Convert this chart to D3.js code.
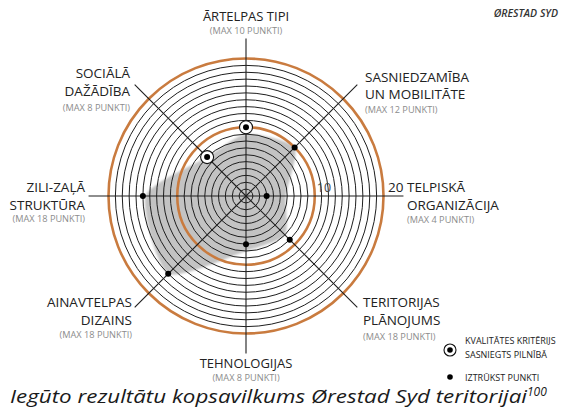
<!DOCTYPE html>
<html>
<head>
<meta charset="utf-8">
<script src="https://cdn.jsdelivr.net/npm/d3@7"></script>
<style>
  body { margin: 0; background: #fff; }
  svg { display: block; font-family: "Open Sans", sans-serif; }
</style>
</head>
<body>
<div id="chart"></div>
<script>
// criteria, clockwise from the top
const criteria = [
  ["ĀRTELPAS TIPI"],
  ["SASNIEDZAMĪBA", "UN MOBILITĀTE"],
  ["TELPISKĀ", "ORGANIZĀCIJA"],
  ["TERITORIJAS", "PLĀNOJUMS"],
  ["TEHNOLOGIJAS"],
  ["AINAVTELPAS", "DIZAINS"],
  ["ZILI-ZAĻĀ", "STRUKTŪRA"],
  ["SOCIĀLĀ", "DAŽĀDĪBA"]
];
const maxPoints = [10, 12, 4, 18, 8, 18, 18, 8];
const scores = [10, 10, 3, 9, 7, 16, 15, 8];
const fullyMet = [true, false, false, false, false, false, false, true];
// extent of the grey area along each axis
const shaded = [9, 10, 5.8, 8, 8, 16, 14.6, 8];
const ringValues = d3.range(1, 21);
const tickLabels = [10, 20];

const width = 563, height = 411;
const cx = 246, cy = 196;

const svg = d3.select("#chart").append("svg")
  .attr("width", width)
  .attr("height", height);

const r = d3.scaleLinear().domain([0, 20]).range([0, 137.5]);
const angle = d3.scaleLinear().domain([0, criteria.length]).range([0, 2 * Math.PI]);
const px = (i, v) => r(v) * Math.sin(angle(i));
const py = (i, v) => -r(v) * Math.cos(angle(i));

const defs = svg.append("defs");
defs.append("filter").attr("id", "soft")
  .attr("x", "-20%").attr("y", "-20%").attr("width", "140%").attr("height", "140%")
  .append("feGaussianBlur").attr("stdDeviation", 1.2);

const g = svg.append("g").attr("transform", `translate(${cx},${cy})`);

// grey area
const area = d3.lineRadial()
  .angle((d, i) => angle(i))
  .radius(d => r(d))
  .curve(d3.curveCardinalClosed.tension(0.35));
g.append("path")
  .attr("d", area(shaded))
  .attr("fill", "#c3c3c3")
  .attr("filter", "url(#soft)");

// rings
g.selectAll("circle.ring")
  .data(ringValues)
  .join("circle")
  .attr("class", "ring")
  .attr("r", d => r(d))
  .attr("fill", "none")
  .attr("stroke", d => d % 10 === 0 ? "#c97b3f" : "#1e1e1e")
  .attr("stroke-width", d => d % 10 === 0 ? 2.6 : 1);

// axes
g.selectAll("line.axis")
  .data(criteria)
  .join("line")
  .attr("class", "axis")
  .attr("x1", 0).attr("y1", 0)
  .attr("x2", (d, i) => px(i, 22.9))
  .attr("y2", (d, i) => py(i, 22.9))
  .attr("stroke", "#1e1e1e")
  .attr("stroke-width", 1.1);

// scale labels
g.selectAll("text.tick")
  .data(tickLabels)
  .join("text")
  .attr("class", "tick")
  .attr("x", d => r(d) + (d === 20 ? 4.5 : 2))
  .attr("y", -4)
  .attr("font-size", d => d === 20 ? 13.5 : 12.5)
  .attr("fill", d => d === 20 ? "#222" : "#444")
  .text(d => d);

// full marks: ring around the dot
g.selectAll("circle.full")
  .data(scores.map((s, i) => ({ s, i })).filter(d => fullyMet[d.i]))
  .join("circle")
  .attr("class", "full")
  .attr("cx", d => px(d.i, d.s))
  .attr("cy", d => py(d.i, d.s))
  .attr("r", 6.5)
  .attr("fill", "#fff")
  .attr("stroke", "#111")
  .attr("stroke-width", 1.1);

g.selectAll("circle.dot")
  .data(scores)
  .join("circle")
  .attr("class", "dot")
  .attr("cx", (d, i) => px(i, d))
  .attr("cy", (d, i) => py(i, d))
  .attr("r", 3)
  .attr("fill", "#000");

// category labels
const labelPos = [
  { x: 246, y: 21, anchor: "middle", gap: 17.5, maxY: 34 },
  { x: 365, y: 82, anchor: "start", gap: 16.5, maxY: 112.5 },
  { x: 407, y: 192, anchor: "start", gap: 17.5, maxY: 223 },
  { x: 363, y: 307, anchor: "start", gap: 17.5, maxY: 340 },
  { x: 246, y: 368, anchor: "middle", gap: 17.5, maxY: 381 },
  { x: 132, y: 307, anchor: "end", gap: 17.5, maxY: 338 },
  { x: 85, y: 192, anchor: "end", gap: 17.5, maxY: 222 },
  { x: 130, y: 78, anchor: "end", gap: 18, maxY: 111 }
];

criteria.forEach((lines, i) => {
  const p = labelPos[i];
  const t = svg.append("text")
    .attr("text-anchor", p.anchor)
    .attr("font-size", i === 0 || i === 4 ? 13 : 13.5)
    .attr("fill", "#222");
  lines.forEach((ln, j) => {
    t.append("tspan").attr("x", p.x).attr("y", p.y + j * p.gap).text(ln);
  });
  svg.append("text")
    .attr("x", p.x)
    .attr("y", p.maxY)
    .attr("text-anchor", p.anchor)
    .attr("font-size", 9.2)
    .attr("fill", "#8c8c8c")
    .text(`(MAX ${maxPoints[i]} PUNKTI)`);
});

svg.append("text")
  .attr("x", 558).attr("y", 17)
  .attr("text-anchor", "end")
  .attr("font-size", 10.5)
  .attr("font-style", "italic")
  .attr("font-weight", 600)
  .attr("fill", "#333")
  .text("ØRESTAD SYD");

// legend
const legend = svg.append("g");
legend.append("circle").attr("cx", 450).attr("cy", 350).attr("r", 6)
  .attr("fill", "#fff").attr("stroke", "#111").attr("stroke-width", 1.1);
legend.append("circle").attr("cx", 450).attr("cy", 350).attr("r", 2.8).attr("fill", "#000");
legend.append("circle").attr("cx", 450).attr("cy", 377).attr("r", 2.8).attr("fill", "#000");
const legendText = legend.append("text").attr("font-size", 9).attr("fill", "#222");
legendText.append("tspan").attr("x", 465).attr("y", 344).text("KVALITĀTES KRITĒRIJS");
legendText.append("tspan").attr("x", 465).attr("y", 358).text("SASNIEGTS PILNĪBĀ");
legend.append("text").attr("x", 465).attr("y", 381)
  .attr("font-size", 9).attr("fill", "#222").text("IZTRŪKST PUNKTI");

// caption
const caption = svg.append("text")
  .attr("x", 10).attr("y", 403)
  .attr("font-size", 18)
  .attr("font-style", "italic")
  .attr("fill", "#1a1a1a");
caption.append("tspan")
  .attr("textLength", 517)
  .attr("lengthAdjust", "spacingAndGlyphs")
  .text("Iegūto rezultātu kopsavilkums Ørestad Syd teritorijai");
caption.append("tspan")
  .attr("dy", -7)
  .attr("font-size", 12)
  .text("100");
</script>
</body>
</html>
